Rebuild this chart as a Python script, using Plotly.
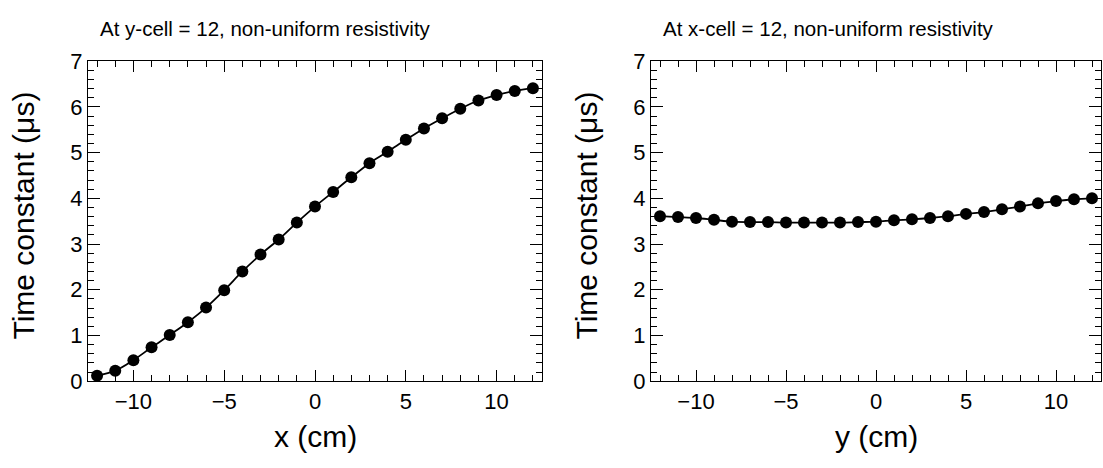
import plotly.graph_objects as go

# ---- data ----
positions = list(range(-12, 13))
tau_vs_x = [0.12, 0.23, 0.46, 0.74, 1.01, 1.29, 1.61, 1.99, 2.40, 2.77, 3.10, 3.47, 3.82,
            4.14, 4.46, 4.77, 5.02, 5.28, 5.53, 5.75, 5.96, 6.14, 6.26, 6.35, 6.41]
tau_vs_y = [3.61, 3.59, 3.57, 3.53, 3.49, 3.48, 3.48, 3.47, 3.47, 3.47, 3.47, 3.48, 3.49,
            3.52, 3.54, 3.57, 3.61, 3.66, 3.70, 3.76, 3.82, 3.89, 3.94, 3.98, 4.00]
titles = ["At y-cell = 12, non-uniform resistivity", "At x-cell = 12, non-uniform resistivity"]
xtitles = ["x (cm)", "y (cm)"]
ytitle = "Time constant (\u03bcs)"

W, H = 1103, 468
FONT = "Liberation Sans, Arial, Helvetica, sans-serif"

# panel pixel boxes
left_px = [(88, 542), (651, 1101)]
top_px, bot_px = 52, 390

fig = go.Figure()
for i, ys in enumerate([tau_vs_x, tau_vs_y]):
    xa = "x" if i == 0 else "x2"
    ya = "y" if i == 0 else "y2"
    fig.add_trace(go.Scatter(
        x=positions, y=ys, xaxis=xa, yaxis=ya, mode="lines+markers",
        line=dict(color="black", width=1.8, shape="spline"),
        marker=dict(color="black", size=12, symbol="circle"),
        showlegend=False, hoverinfo="skip"))

def xax(dom, anchor):
    return dict(domain=dom, anchor=anchor, range=[-12.5, 12.5], tick0=0, dtick=5,
                ticks="inside", ticklen=11, tickwidth=1, tickcolor="black",
                minor=dict(dtick=1, ticks="inside", ticklen=6, tickwidth=1, tickcolor="black"),
                showline=True, linecolor="black", linewidth=1.2, mirror="ticks",
                showgrid=False, zeroline=False,
                tickfont=dict(family=FONT, size=22, color="black"))

def yax(anchor):
    return dict(domain=[(H - bot_px) / H, (H - top_px) / H], anchor=anchor, range=[0, 7],
                tick0=0, dtick=1,
                ticks="inside", ticklen=12, tickwidth=1, tickcolor="black",
                minor=dict(dtick=0.2, ticks="inside", ticklen=6, tickwidth=1, tickcolor="black"),
                showline=True, linecolor="black", linewidth=1.2, mirror="ticks",
                showgrid=False, zeroline=False,
                tickfont=dict(family=FONT, size=22, color="black"))

annotations = []
for i in range(2):
    l, r = left_px[i]
    # panel title
    annotations.append(dict(text=titles[i], xref="paper", yref="paper",
                            x=(l + 10) / W, y=(H - 17) / H, xanchor="left", yanchor="middle",
                            showarrow=False, font=dict(family=FONT, size=20.5, color="black")))
    # x title
    annotations.append(dict(text=xtitles[i], xref="paper", yref="paper",
                            x=((l + r) / 2) / W, y=(H - 448) / H, xanchor="center", yanchor="middle",
                            showarrow=False, font=dict(family=FONT, size=30, color="black")))
    # y title
    annotations.append(dict(text=ytitle, xref="paper", yref="paper", textangle=-90,
                            x=(l - 64) / W, y=(H - 215) / H,
                            xanchor="center", yanchor="middle",
                            showarrow=False, font=dict(family=FONT, size=30, color="black")))

fig.update_layout(
    width=W, height=H, margin=dict(l=0, r=0, t=0, b=0),
    paper_bgcolor="white", plot_bgcolor="white",
    xaxis=xax([left_px[0][0] / W, left_px[0][1] / W], "y"),
    yaxis=yax("x"),
    xaxis2=xax([left_px[1][0] / W, left_px[1][1] / W], "y2"),
    yaxis2=yax("x2"),
    annotations=annotations,
    font=dict(family=FONT, color="black"),
)

fig.write_html("out.html")
